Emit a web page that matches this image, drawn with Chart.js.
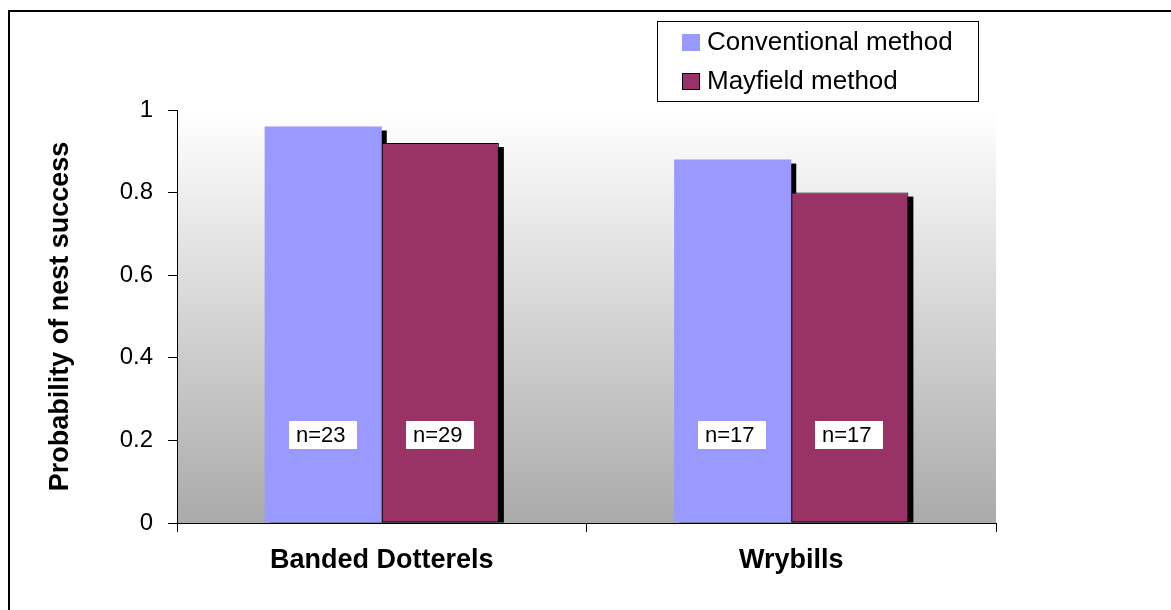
<!DOCTYPE html>
<html>
<head>
<meta charset="utf-8">
<script src="https://cdn.jsdelivr.net/npm/chart.js@4.4.1/dist/chart.umd.min.js"></script>
<style>
  html, body { margin: 0; padding: 0; background: #ffffff; }
  canvas { display: block; }
</style>
</head>
<body>
<canvas id="nestChart" width="1171" height="610"></canvas>
<script>
// Species and nest-success estimates
const categories = ['Banded Dotterels', 'Wrybills'];
const conventionalValues = [0.96, 0.88];
const mayfieldValues = [0.92, 0.80];
// Number of nests behind each estimate
const conventionalSizes = [23, 17];
const mayfieldSizes = [29, 17];
// Value axis ticks
const yTicks = [0, 0.2, 0.4, 0.6, 0.8, 1];

const FONT = '"Liberation Sans", Arial, Helvetica, sans-serif';

// Page frame and gradient behind the plot
const backdrop = {
  id: 'backdrop',
  beforeDraw(chart) {
    const { ctx, chartArea: a } = chart;
    ctx.save();
    ctx.fillStyle = '#000';
    ctx.fillRect(8, 10, chart.width - 8, 2);
    ctx.fillRect(8, 10, 2, chart.height - 10);
    const g = ctx.createLinearGradient(0, a.top, 0, a.bottom);
    g.addColorStop(0, '#ffffff');
    g.addColorStop(1, '#aaaaaa');
    ctx.fillStyle = g;
    ctx.fillRect(a.left, a.top, a.right - a.left, a.bottom - a.top);
    ctx.restore();
  }
};

// Solid drop shadow behind every bar
const barShadows = {
  id: 'barShadows',
  beforeDatasetsDraw(chart) {
    const { ctx } = chart;
    const dx = 5, dy = 4;
    ctx.save();
    ctx.fillStyle = '#000';
    chart.data.datasets.forEach((ds, i) => {
      chart.getDatasetMeta(i).data.forEach(el => {
        const p = el.getProps(['x', 'y', 'base', 'width'], true);
        const left = p.x - p.width / 2 + dx;
        const top = p.y + dy;
        ctx.fillRect(left, top, p.width, p.base - top);
      });
    });
    ctx.restore();
  }
};

// "n=" boxes inside the bars
const sampleLabels = {
  id: 'sampleLabels',
  afterDatasetsDraw(chart, args, opts) {
    const { ctx } = chart;
    const yScale = chart.scales.y;
    const cy = yScale.getPixelForValue(opts.level);
    ctx.save();
    ctx.font = '22px ' + FONT;
    ctx.textBaseline = 'middle';
    ctx.textAlign = 'left';
    chart.data.datasets.forEach((ds, i) => {
      chart.getDatasetMeta(i).data.forEach((el, j) => {
        const p = el.getProps(['x', 'width'], true);
        const txt = 'n=' + ds.sizes[j];
        const w = ctx.measureText(txt).width + 18;
        const left = Math.round(p.x - p.width / 2 + 24);
        ctx.fillStyle = '#ffffff';
        ctx.fillRect(left, Math.round(cy - 14), Math.round(w), 28);
        ctx.fillStyle = '#000';
        ctx.fillText(txt, left + 7, cy + 1);
      });
    });
    ctx.restore();
  }
};

// Boxed legend at the upper right
const boxLegend = {
  id: 'boxLegend',
  afterDraw(chart) {
    const { ctx } = chart;
    ctx.save();
    ctx.fillStyle = '#ffffff';
    ctx.fillRect(657, 21, 321, 80);
    ctx.strokeStyle = '#000';
    ctx.lineWidth = 1;
    ctx.strokeRect(657.5, 21.5, 321, 80);
    ctx.font = '26px ' + FONT;
    ctx.textBaseline = 'middle';
    ctx.textAlign = 'left';
    const rows = [42, 81];
    chart.data.datasets.forEach((ds, i) => {
      const cy = rows[i];
      ctx.fillStyle = ds.backgroundColor;
      ctx.fillRect(682, cy - 8, 18, 17);
      if (ds.borderWidth) {
        ctx.strokeStyle = ds.borderColor;
        ctx.strokeRect(682.5, cy - 7.5, 17, 16);
      }
      ctx.fillStyle = '#000';
      ctx.fillText(ds.label, 707, cy + 1);
    });
    ctx.restore();
  }
};

new Chart(document.getElementById('nestChart'), {
  type: 'bar',
  data: {
    labels: categories,
    datasets: [
      {
        label: 'Conventional method',
        data: conventionalValues,
        sizes: conventionalSizes,
        backgroundColor: '#9999ff',
        borderWidth: 0
      },
      {
        label: 'Mayfield method',
        data: mayfieldValues,
        sizes: mayfieldSizes,
        backgroundColor: '#993366',
        borderColor: '#000000',
        borderWidth: 1,
        borderSkipped: false
      }
    ]
  },
  options: {
    responsive: false,
    animation: false,
    events: [],
    layout: { padding: { left: 0, top: 110, right: 175, bottom: 0 } },
    datasets: { bar: { categoryPercentage: 0.572, barPercentage: 1 } },
    plugins: {
      legend: { display: false },
      title: { display: false },
      tooltip: { enabled: false },
      sampleLabels: { level: 0.214 }
    },
    scales: {
      x: {
        z: 1,
        grid: { offset: true, drawOnChartArea: false, drawTicks: true, tickLength: 9, color: '#000' },
        border: { display: true, color: '#000', width: 1 },
        ticks: { color: '#000', padding: 12, font: { family: FONT, size: 27, weight: 'bold' } },
        afterFit(s) { s.height = 87; }
      },
      y: {
        min: 0,
        max: 1,
        afterBuildTicks(s) { s.ticks = yTicks.map(v => ({ value: v })); },
        grid: { drawOnChartArea: false, drawTicks: true, tickLength: 9, color: '#000' },
        border: { display: true, color: '#000', width: 1 },
        ticks: {
          color: '#000',
          padding: 15,
          font: { family: FONT, size: 24 },
          callback: v => String(v)
        },
        title: {
          display: true,
          text: 'Probability of nest success',
          color: '#000',
          padding: { top: 44, bottom: 0 },
          font: { family: FONT, size: 27, weight: 'bold' }
        },
        afterFit(s) { s.width = 177; }
      }
    }
  },
  plugins: [backdrop, barShadows, sampleLabels, boxLegend]
});
</script>
</body>
</html>
